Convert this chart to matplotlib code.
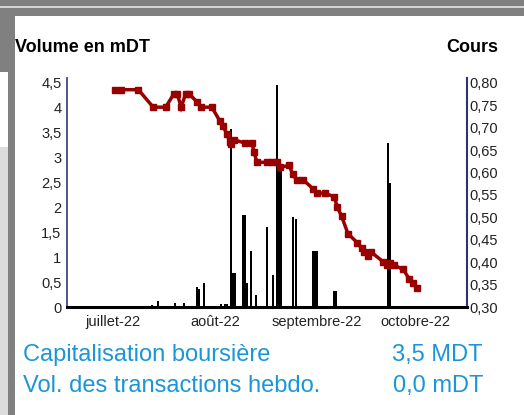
import matplotlib
matplotlib.use("Agg")
import matplotlib.pyplot as plt
from matplotlib.patches import Rectangle

plt.rcParams['font.family'] = ['Liberation Sans', 'DejaVu Sans']

# ---- data (x in days from 1 July 2022) ----
month_days = [0, 31, 62, 92]
month_labels = ["juillet-22", "août-22", "septembre-22", "octobre-22"]

vol_days = [11.8, 13.8, 18.8, 21.7, 25.5, 26.1, 27.7, 32.7, 34.1, 34.7,
            35.9, 36.6, 37.1, 39.5, 40.0, 40.7, 41.9, 43.6, 46.7, 48.5,
            49.8, 50.5, 51.1, 53.3, 54.6, 55.7, 60.9, 61.5, 62.0, 67.3,
            67.8, 83.6, 84.2]
vol_values = [0.04, 0.12, 0.08, 0.08, 0.40, 0.37, 0.48, 0.07, 0.07, 0.07,
              3.57, 0.68, 0.68, 1.85, 1.85, 0.49, 1.12, 0.24, 1.61, 0.65,
              4.46, 2.85, 2.85, 0.03, 1.81, 1.77, 1.12, 1.12, 1.12, 0.32,
              0.32, 3.29, 2.50]

price_days = [0.6, 2.4, 7.7, 12.2, 16.0, 18.5, 19.5, 20.7, 22.1, 23.1,
              25.6, 26.7, 30.0, 32.5, 33.3, 34.6, 35.4, 36.0, 36.8, 40.1,
              42.2, 42.9, 43.7, 46.7, 48.3, 49.8, 50.8, 53.6, 54.6, 55.8,
              57.8, 60.9, 61.9, 64.4, 67.2, 68.2, 69.5, 71.4, 74.3, 75.6,
              76.3, 77.4, 78.4, 82.1, 83.2, 84.3, 85.5, 88.2, 90.1, 91.2,
              92.3]
price_values = [0.785, 0.785, 0.785, 0.746, 0.746, 0.776, 0.776, 0.746, 0.776, 0.776,
                0.757, 0.746, 0.746, 0.715, 0.705, 0.687, 0.668, 0.664, 0.673, 0.666,
                0.666, 0.646, 0.623, 0.623, 0.623, 0.623, 0.612, 0.616, 0.596, 0.584,
                0.584, 0.563, 0.554, 0.554, 0.546, 0.523, 0.502, 0.464, 0.443, 0.431,
                0.422, 0.413, 0.423, 0.401, 0.393, 0.398, 0.393, 0.384, 0.362, 0.353,
                0.342]

vol_ticks = [0, 0.5, 1, 1.5, 2, 2.5, 3, 3.5, 4, 4.5]
price_ticks = [0.30, 0.35, 0.40, 0.45, 0.50, 0.55, 0.60, 0.65, 0.70, 0.75, 0.80]

W, H = 524, 415
fig = plt.figure(figsize=(W / 100, H / 100), dpi=100)
fig.patch.set_facecolor("white")

def px_rect(x0, y0, x1, y1, color):
    fig.patches.append(Rectangle((x0 / W, 1 - y1 / H), (x1 - x0) / W, (y1 - y0) / H,
                                 transform=fig.transFigure, color=color, lw=0, zorder=0))

# frame decoration
px_rect(0, 0, W, 16, "#808080")
px_rect(0, 6, W, 8, "#d4d4d4")
px_rect(8, 16, 15, H, "#808080")
px_rect(0, 16, 8, 72, "#808080")
px_rect(0, 147, 8, H, "#dcdcdc")

ax = fig.add_axes([67 / W, (H - 307) / H, 400 / W, (307 - 78) / H])
ax2 = ax.twinx()

ax.bar(vol_days, vol_values, width=0.6, color="black", zorder=2)
ax2.plot(price_days, price_values, color="#990000", lw=2.5, marker="s",
         markersize=4.2, solid_joinstyle="miter")

ax.set_xlim(-14.0, 107.6)
ax.set_ylim(0, 4.6)
ax2.set_ylim(0.30, 0.30 + 0.5 * 4.6 / 4.5)

ax.set_yticks(vol_ticks)
ax.set_yticklabels([f"{v:g}".replace(".", ",") for v in vol_ticks])
ax2.set_yticks(price_ticks)
ax2.set_yticklabels([f"{v:.2f}".replace(".", ",") for v in price_ticks])
ax.set_xticks(month_days)
ax.set_xticklabels(month_labels)

for a in (ax, ax2):
    a.tick_params(length=0, labelsize=10.5, colors="#222222")
    for s in ("top", "bottom", "left", "right"):
        a.spines[s].set_visible(False)
ax.tick_params(axis="y", pad=4)
ax2.tick_params(axis="y", pad=1.5)
ax.tick_params(axis="x", pad=6)

ax2.spines["left"].set_visible(True)
ax2.spines["left"].set_color("#3b4a8c")
ax2.spines["left"].set_linewidth(1.3)
ax2.spines["right"].set_visible(True)
ax2.spines["right"].set_color("#2c3570")
ax2.spines["right"].set_linewidth(1.5)
ax2.spines["bottom"].set_visible(True)
ax2.spines["bottom"].set_color("black")
ax2.spines["bottom"].set_linewidth(2.2)

fig.text(15 / W, 1 - 48 / H, "Volume en mDT", fontsize=13, fontweight="bold",
         ha="left", va="center")
fig.text(498 / W, 1 - 48 / H, "Cours", fontsize=13, fontweight="bold",
         ha="right", va="center")

blue = "#1a96d8"
fig.text(23 / W, 1 - 355 / H, "Capitalisation boursière", fontsize=17, color=blue,
         ha="left", va="center")
fig.text(23 / W, 1 - 386 / H, "Vol. des transactions hebdo.", fontsize=17, color=blue,
         ha="left", va="center")
fig.text(483 / W, 1 - 355 / H, "3,5 MDT", fontsize=17, color=blue,
         ha="right", va="center")
fig.text(483 / W, 1 - 386 / H, "0,0 mDT", fontsize=17, color=blue,
         ha="right", va="center")

fig.savefig("out.png", dpi=100)
